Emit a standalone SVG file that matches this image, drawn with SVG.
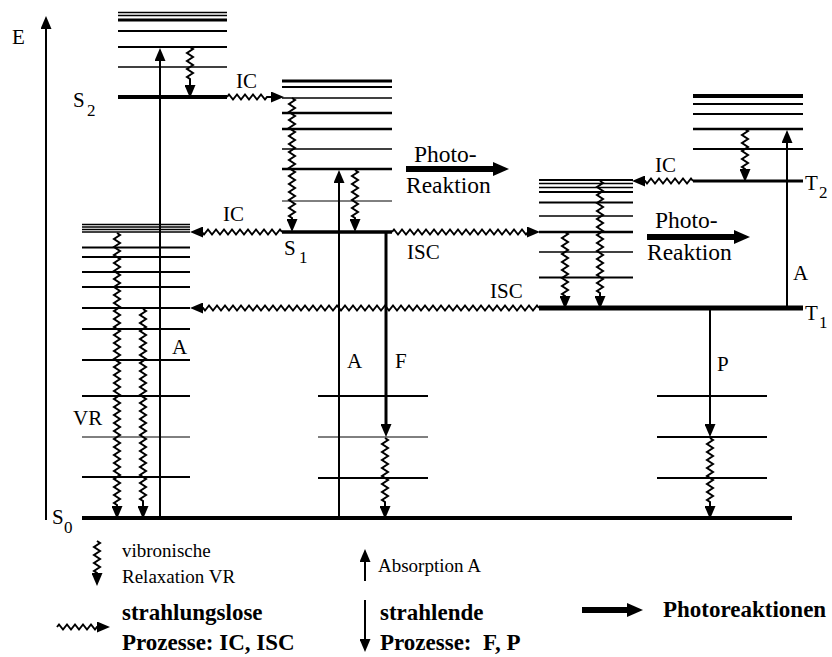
<svg xmlns="http://www.w3.org/2000/svg" width="832" height="657" viewBox="0 0 832 657">
<defs>
<marker id="ar" viewBox="0 0 13 11" refX="1" refY="5.5" markerWidth="13" markerHeight="11" markerUnits="userSpaceOnUse" orient="0"><path d="M0 0L13 5.5L0 11z" fill="#000"/></marker>
<marker id="al" viewBox="0 0 13 11" refX="1" refY="5.5" markerWidth="13" markerHeight="11" markerUnits="userSpaceOnUse" orient="180"><path d="M0 0L13 5.5L0 11z" fill="#000"/></marker>
<marker id="ad" viewBox="0 0 13 11" refX="1" refY="5.5" markerWidth="13" markerHeight="11" markerUnits="userSpaceOnUse" orient="90"><path d="M0 0L13 5.5L0 11z" fill="#000"/></marker>
<marker id="au" viewBox="0 0 13 11" refX="1" refY="5.5" markerWidth="13" markerHeight="11" markerUnits="userSpaceOnUse" orient="270"><path d="M0 0L13 5.5L0 11z" fill="#000"/></marker>
<marker id="pr" viewBox="0 0 16 14" refX="1" refY="7" markerWidth="16" markerHeight="14" markerUnits="userSpaceOnUse" orient="0"><path d="M0 0L16 7L0 14z" fill="#000"/></marker>
</defs>
<rect width="832" height="657" fill="#fff"/>

<g id="S2">
<g stroke="#000" fill="none">
<line stroke-width="1.5" x1="118" y1="12.5" x2="227" y2="12.5"/>
<line stroke-width="1.5" x1="118" y1="15.5" x2="227" y2="15.5"/>
<line stroke-width="3" x1="118" y1="20" x2="227" y2="20"/>
<line stroke-width="2" x1="118" y1="31" x2="227" y2="31"/>
<line stroke-width="2" x1="118" y1="47" x2="227" y2="47"/>
<line stroke-width="1.5" x1="118" y1="67" x2="227" y2="67"/>
<line stroke-width="4" x1="118" y1="97" x2="227" y2="97"/>
</g>
<text font-family="Liberation Serif" font-size="21" x="73" y="107">S</text><text font-family="Liberation Serif" font-size="17" x="87" y="116">2</text>
</g>

<g id="S1">
<g stroke="#000" fill="none">
<line stroke-width="3" x1="282" y1="81" x2="392" y2="81"/>
<line stroke-width="2" x1="282" y1="87" x2="392" y2="87"/>
<line stroke-width="1.5" x1="282" y1="98" x2="392" y2="98"/>
<line stroke-width="2.5" x1="282" y1="113" x2="392" y2="113"/>
<line stroke-width="2.5" x1="282" y1="129" x2="392" y2="129"/>
<line stroke-width="1.5" x1="282" y1="149" x2="392" y2="149"/>
<line stroke-width="2.5" x1="282" y1="169" x2="392" y2="169"/>
<line stroke-width="1" x1="282" y1="201" x2="392" y2="201"/>
<line stroke-width="3.5" x1="282" y1="232" x2="392" y2="232"/>
</g>
<text font-family="Liberation Serif" font-size="21" x="284" y="255">S</text><text font-family="Liberation Serif" font-size="17" x="299" y="263">1</text>
</g>

<g id="S0">
<g stroke="#000" fill="none">
<line stroke-width="1.5" x1="82" y1="224.5" x2="190" y2="224.5"/>
<line stroke-width="1.5" x1="82" y1="227" x2="190" y2="227"/>
<line stroke-width="1.5" x1="82" y1="229.5" x2="190" y2="229.5"/>
<line stroke-width="1.5" x1="82" y1="232" x2="190" y2="232"/>
<line stroke-width="2" x1="82" y1="247.5" x2="190" y2="247.5"/>
<line stroke-width="2" x1="82" y1="257" x2="190" y2="257"/>
<line stroke-width="2" x1="82" y1="272" x2="190" y2="272"/>
<line stroke-width="2" x1="82" y1="287" x2="190" y2="287"/>
<line stroke-width="2" x1="82" y1="308" x2="190" y2="308"/>
<line stroke-width="2" x1="82" y1="329" x2="190" y2="329"/>
<line stroke-width="2" x1="82" y1="360" x2="190" y2="360"/>
<line stroke-width="2" x1="82" y1="396" x2="190" y2="396"/>
<line stroke-width="1" x1="82" y1="437" x2="190" y2="437"/>
<line stroke-width="2" x1="82" y1="477" x2="190" y2="477"/>
<line stroke-width="4" x1="82" y1="518" x2="792" y2="518"/>
</g>
<text font-family="Liberation Serif" font-size="21" x="52" y="524">S</text><text font-family="Liberation Serif" font-size="17" x="64" y="533">0</text>
</g>

<g id="S0-F" stroke="#000" fill="none">
<line stroke-width="2" x1="318" y1="396" x2="428" y2="396"/>
<line stroke-width="1" x1="318" y1="437" x2="428" y2="437"/>
<line stroke-width="2" x1="318" y1="478" x2="428" y2="478"/>
</g>

<g id="S0-P" stroke="#000" fill="none">
<line stroke-width="2" x1="657" y1="396" x2="767" y2="396"/>
<line stroke-width="2" x1="657" y1="437" x2="767" y2="437"/>
<line stroke-width="2" x1="657" y1="478" x2="767" y2="478"/>
</g>

<g id="T1">
<g stroke="#000" fill="none">
<line stroke-width="2" x1="539" y1="180" x2="633" y2="180"/>
<line stroke-width="1.5" x1="539" y1="183.5" x2="633" y2="183.5"/>
<line stroke-width="1.5" x1="539" y1="187.5" x2="633" y2="187.5"/>
<line stroke-width="2" x1="539" y1="192" x2="633" y2="192"/>
<line stroke-width="2" x1="539" y1="202.5" x2="633" y2="202.5"/>
<line stroke-width="1.5" x1="539" y1="216" x2="633" y2="216"/>
<line stroke-width="2.5" x1="539" y1="232" x2="633" y2="232"/>
<line stroke-width="1.5" x1="539" y1="252" x2="633" y2="252"/>
<line stroke-width="2" x1="539" y1="277.5" x2="633" y2="277.5"/>
<line stroke-width="5" x1="539" y1="308" x2="803" y2="308"/>
</g>
<text font-family="Liberation Serif" font-size="21" x="805" y="320">T</text><text font-family="Liberation Serif" font-size="17" x="819" y="328">1</text>
</g>

<g id="T2">
<g stroke="#000" fill="none">
<line stroke-width="4" x1="693" y1="96" x2="803" y2="96"/>
<line stroke-width="2" x1="693" y1="104" x2="803" y2="104"/>
<line stroke-width="2" x1="693" y1="114" x2="803" y2="114"/>
<line stroke-width="2.5" x1="693" y1="129" x2="803" y2="129"/>
<line stroke-width="2" x1="693" y1="149" x2="803" y2="149"/>
<line stroke-width="3" x1="693" y1="181" x2="803" y2="181"/>
</g>
<text font-family="Liberation Serif" font-size="21" x="805" y="190">T</text><text font-family="Liberation Serif" font-size="17" x="819" y="198">2</text>
</g>

<g id="axis">
<path stroke="#000" fill="none" stroke-width="2" d="M46 520V28" marker-end="url(#au)"/>
<text font-family="Liberation Serif" font-size="21" x="12" y="44">E</text>
</g>

<g id="connectors" stroke="#000" fill="none">
<g stroke-width="2">
<path d="M160 518V60" marker-end="url(#au)"/>
<path d="M339 518V182" marker-end="url(#au)"/>
<path d="M787 306V142" marker-end="url(#au)"/>
<path d="M710 310V425" marker-end="url(#ad)"/>
</g>
<path stroke-width="3" d="M386 232V425" marker-end="url(#ad)"/>
<g stroke-width="2">
<path d="M190 47l3 2 l-6 4l6 4 l-6 4l6 4 l-6 4l6 4 l-6 4l3 2V86" marker-end="url(#ad)"/>
<path d="M292 98l3 2 l-6 4l6 4 l-6 4l6 4 l-6 4l6 4 l-6 4l6 4 l-6 4l6 4  l-6 4l6 4 l-6 4l6 4 l-6 4l6 4 l-6 4l6 4 l-6 4l6 4  l-6 4l6 4 l-6 4l6 4 l-6 4l6 4 l-6 4l6 4  l-6 4l3 2V220" marker-end="url(#ad)"/>
<path d="M355 170l3 2 l-6 4l6 4 l-6 4l6 4 l-6 4l6 4 l-6 4l6 4 l-6 4l6 4  l-6 4l3 2V220" marker-end="url(#ad)"/>
<path d="M117 233l3 2 l-6 4l6 4 l-6 4l6 4 l-6 4l6 4 l-6 4l6 4 l-6 4l6 4  l-6 4l6 4 l-6 4l6 4 l-6 4l6 4 l-6 4l6 4 l-6 4l6 4  l-6 4l6 4 l-6 4l6 4 l-6 4l6 4 l-6 4l6 4 l-6 4l6 4  l-6 4l6 4 l-6 4l6 4 l-6 4l6 4 l-6 4l6 4 l-6 4l6 4  l-6 4l6 4 l-6 4l6 4 l-6 4l6 4 l-6 4l6 4 l-6 4l6 4  l-6 4l6 4 l-6 4l6 4 l-6 4l6 4 l-6 4l6 4 l-6 4l6 4  l-6 4l6 4 l-6 4l6 4 l-6 4l6 4  l-6 4l3 2V507" marker-end="url(#ad)"/>
<path d="M143 309l3 2 l-6 4l6 4 l-6 4l6 4 l-6 4l6 4 l-6 4l6 4 l-6 4l6 4  l-6 4l6 4 l-6 4l6 4 l-6 4l6 4 l-6 4l6 4 l-6 4l6 4  l-6 4l6 4 l-6 4l6 4 l-6 4l6 4 l-6 4l6 4 l-6 4l6 4  l-6 4l6 4 l-6 4l6 4 l-6 4l6 4 l-6 4l6 4 l-6 4l6 4  l-6 4l6 4 l-6 4l6 4 l-6 4l6 4  l-6 4l3 2V507" marker-end="url(#ad)"/>
<path d="M385 438l3 2 l-6 4l6 4 l-6 4l6 4 l-6 4l6 4 l-6 4l6 4 l-6 4l6 4  l-6 4l6 4 l-6 4l6 4  l-6 4l3 2V507" marker-end="url(#ad)"/>
<path d="M710 438l3 2 l-6 4l6 4 l-6 4l6 4 l-6 4l6 4 l-6 4l6 4 l-6 4l6 4  l-6 4l6 4 l-6 4l6 4  l-6 4l3 2V507" marker-end="url(#ad)"/>
<path d="M565 232l3 2 l-6 4l6 4 l-6 4l6 4 l-6 4l6 4 l-6 4l6 4 l-6 4l6 4  l-6 4l6 4 l-6 4l6 4  l-6 4l3 2V297" marker-end="url(#ad)"/>
<path d="M600 181l3 2 l-6 4l6 4 l-6 4l6 4 l-6 4l6 4 l-6 4l6 4 l-6 4l6 4  l-6 4l6 4 l-6 4l6 4 l-6 4l6 4 l-6 4l6 4 l-6 4l6 4  l-6 4l6 4 l-6 4l6 4 l-6 4l6 4  l-6 4l3 2V297" marker-end="url(#ad)"/>
<path d="M745 129l3 2 l-6 4l6 4 l-6 4l6 4 l-6 4l6 4 l-6 4l6 4  l-6 4l3 2V170" marker-end="url(#ad)"/>
<path d="M227 97l2 -2.5 l4 5l4 -5 l4 5l4 -5 l4 5l4 -5 l4 5l4 -5  l4 5l2 -2.5H272" marker-end="url(#ar)"/>
<path d="M282 232l-2 -2.5 l-4 5l-4 -5 l-4 5l-4 -5 l-4 5l-4 -5 l-4 5l-4 -5 l-4 5l-4 -5  l-4 5l-4 -5 l-4 5l-4 -5 l-4 5l-4 -5 l-4 5l-4 -5  l-4 5l-2 -2.5H202" marker-end="url(#al)"/>
<path d="M392 232l2 -2.5 l4 5l4 -5 l4 5l4 -5 l4 5l4 -5 l4 5l4 -5 l4 5l4 -5  l4 5l4 -5 l4 5l4 -5 l4 5l4 -5 l4 5l4 -5 l4 5l4 -5  l4 5l4 -5 l4 5l4 -5 l4 5l4 -5 l4 5l4 -5 l4 5l4 -5  l4 5l4 -5  l4 5l2 -2.5H528" marker-end="url(#ar)"/>
<path d="M539 308l-2 -2.5 l-4 5l-4 -5 l-4 5l-4 -5 l-4 5l-4 -5 l-4 5l-4 -5 l-4 5l-4 -5  l-4 5l-4 -5 l-4 5l-4 -5 l-4 5l-4 -5 l-4 5l-4 -5 l-4 5l-4 -5  l-4 5l-4 -5 l-4 5l-4 -5 l-4 5l-4 -5 l-4 5l-4 -5 l-4 5l-4 -5  l-4 5l-4 -5 l-4 5l-4 -5 l-4 5l-4 -5 l-4 5l-4 -5 l-4 5l-4 -5  l-4 5l-4 -5 l-4 5l-4 -5 l-4 5l-4 -5 l-4 5l-4 -5 l-4 5l-4 -5  l-4 5l-4 -5 l-4 5l-4 -5 l-4 5l-4 -5 l-4 5l-4 -5 l-4 5l-4 -5  l-4 5l-4 -5 l-4 5l-4 -5 l-4 5l-4 -5 l-4 5l-4 -5 l-4 5l-4 -5  l-4 5l-4 -5 l-4 5l-4 -5 l-4 5l-4 -5 l-4 5l-4 -5 l-4 5l-4 -5  l-4 5l-4 -5  l-4 5l-2 -2.5H202" marker-end="url(#al)"/>
<path d="M693 181l-2 -2.5 l-4 5l-4 -5 l-4 5l-4 -5 l-4 5l-4 -5 l-4 5l-4 -5 l-4 5l-4 -5  l-4 5l-2 -2.5H644" marker-end="url(#al)"/>
</g>
<g stroke-width="6">
<path d="M406 169H494" marker-end="url(#pr)"/>
<path d="M647 237H735" marker-end="url(#pr)"/>
</g>
</g>

<g id="labels" fill="#000">
<text font-family="Liberation Serif" font-size="21" x="236" y="88">IC</text>
<text font-family="Liberation Serif" font-size="21" x="223" y="221">IC</text>
<text font-family="Liberation Serif" font-size="21" x="407" y="259">ISC</text>
<text font-family="Liberation Serif" font-size="21" x="490" y="298">ISC</text>
<text font-family="Liberation Serif" font-size="21" x="655" y="172">IC</text>
<text font-family="Liberation Serif" font-size="21" x="172" y="354">A</text>
<text font-family="Liberation Serif" font-size="21" x="73" y="425">VR</text>
<text font-family="Liberation Serif" font-size="21" x="347" y="368">A</text>
<text font-family="Liberation Serif" font-size="21" x="395" y="368">F</text>
<text font-family="Liberation Serif" font-size="21" x="717" y="371">P</text>
<text font-family="Liberation Serif" font-size="21" x="793" y="280">A</text>
<text font-family="Liberation Serif" font-size="23.5" x="414" y="162">Photo-</text>
<text font-family="Liberation Serif" font-size="23.5" x="406" y="193">Reaktion</text>
<text font-family="Liberation Serif" font-size="23.5" x="655" y="228">Photo-</text>
<text font-family="Liberation Serif" font-size="23.5" x="647" y="260">Reaktion</text>
</g>

<g id="legend">
<g stroke="#000" fill="none" stroke-width="2">
<path d="M97 541l3 2 l-6 4l6 4 l-6 4l6 4 l-6 4l6 4 l-6 4l3 2V574" marker-end="url(#ad)"/>
<path d="M365 581V561" marker-end="url(#au)"/>
<path d="M57 627l2 -2.5 l4 5l4 -5 l4 5l4 -5 l4 5l4 -5 l4 5l4 -5  l4 5l2 -2.5H98" marker-end="url(#ar)"/>
<path d="M365 600V640" marker-end="url(#ad)"/>
<path stroke-width="6" d="M582 610H628" marker-end="url(#pr)"/>
</g>
<text font-family="Liberation Serif" font-size="19" x="122" y="557">vibronische</text>
<text font-family="Liberation Serif" font-size="19" x="122" y="583">Relaxation VR</text>
<text font-family="Liberation Serif" font-size="19" x="378" y="572">Absorption A</text>
<text font-family="Liberation Serif" font-size="23" font-weight="bold" x="122" y="620">strahlungslose</text>
<text font-family="Liberation Serif" font-size="23" font-weight="bold" x="122" y="650">Prozesse: IC, ISC</text>
<text font-family="Liberation Serif" font-size="23" font-weight="bold" x="380" y="620">strahlende</text>
<text font-family="Liberation Serif" font-size="23" font-weight="bold" x="380" y="650" xml:space="preserve">Prozesse:  F, P</text>
<text font-family="Liberation Serif" font-size="23" font-weight="bold" x="663" y="617">Photoreaktionen</text>
</g>
</svg>
